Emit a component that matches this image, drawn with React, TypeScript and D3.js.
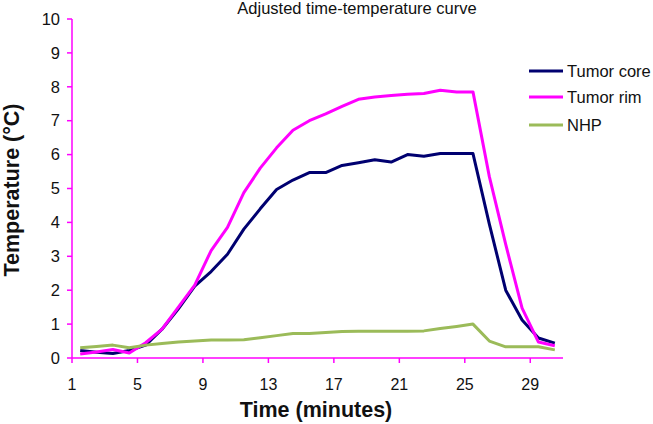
import React from 'react';
import * as d3 from 'd3';

// sample times (minutes), one per category
const times = [
  1.5, 2.5, 3.5, 4.5, 5.5, 6.5, 7.5, 8.5, 9.5, 10.5,
  11.5, 12.5, 13.5, 14.5, 15.5, 16.5, 17.5, 18.5, 19.5, 20.5,
  21.5, 22.5, 23.5, 24.5, 25.5, 26.5, 27.5, 28.5, 29.5, 30.5
];

const tumorCore = [
  0.22, 0.17, 0.13, 0.22, 0.38, 0.85, 1.45, 2.12, 2.55, 3.06,
  3.8, 4.4, 4.97, 5.25, 5.47, 5.47, 5.68, 5.76, 5.85, 5.78,
  6.0, 5.95, 6.03, 6.03, 6.03, 3.95, 2.0, 1.12, 0.59, 0.44
];

const tumorRim = [
  0.12, 0.18, 0.25, 0.15, 0.45, 0.85, 1.5, 2.15, 3.17, 3.85,
  4.88, 5.6, 6.2, 6.72, 7.0, 7.2, 7.42, 7.63, 7.7, 7.74,
  7.78, 7.8, 7.9, 7.85, 7.85, 5.35, 3.35, 1.47, 0.47, 0.36
];

const nhp = [
  0.3, 0.34, 0.38, 0.3, 0.38, 0.43, 0.47, 0.5, 0.53, 0.53,
  0.54, 0.6, 0.66, 0.72, 0.72, 0.75, 0.78, 0.79, 0.79, 0.79,
  0.79, 0.8, 0.87, 0.93, 1.0, 0.5, 0.33, 0.33, 0.33, 0.24
];

const xTicks = [1, 5, 9, 13, 17, 21, 25, 29];
const yTicks = [0, 1, 2, 3, 4, 5, 6, 7, 8, 9, 10];

const series = [
  { name: 'Tumor core', values: tumorCore, color: '#000070' },
  { name: 'Tumor rim', values: tumorRim, color: '#ff00ff' },
  { name: 'NHP', values: nhp, color: '#9bbb59' }
];

const W = 653;
const H = 424;
const font = '"Liberation Sans", Arial, sans-serif';
const axisColor = '#ff00ff';

export default function App() {
  const x = d3.scaleLinear().domain([1, 31]).range([72, 563]);
  const y = d3.scaleLinear().domain([0, 10]).range([358, 19]);

  const line = (vals: number[]) =>
    d3
      .line<number>()
      .x((_, i) => x(times[i]))
      .y((d) => y(d))(vals) || '';

  return (
    <svg
      width={W}
      height={H}
      style={{ position: 'absolute', left: 0, top: 0, background: '#fff' }}
      fontFamily={font}
    >
      <text x={357} y={14} textAnchor="middle" fontSize={16.5} fill="#111">
        Adjusted time-temperature curve
      </text>

      {/* y axis */}
      <line x1={x(1)} x2={x(1)} y1={y(0)} y2={y(10)} stroke={axisColor} strokeWidth={1.5} />
      {yTicks.map((t) => (
        <g key={'y' + t}>
          <line x1={x(1) - 5} x2={x(1)} y1={y(t)} y2={y(t)} stroke={axisColor} strokeWidth={1.5} />
          <text x={60} y={y(t)} dy="0.35em" textAnchor="end" fontSize={16.5} fill="#111">
            {t}
          </text>
        </g>
      ))}

      {/* x axis */}
      <line x1={x(1)} x2={x(31)} y1={y(0)} y2={y(0)} stroke={axisColor} strokeWidth={1.5} />
      {xTicks.map((t) => (
        <g key={'x' + t}>
          <line x1={x(t)} x2={x(t)} y1={y(0)} y2={y(0) + 5} stroke={axisColor} strokeWidth={1.5} />
          <text x={x(t)} y={390} textAnchor="middle" fontSize={16} fill="#111">
            {t}
          </text>
        </g>
      ))}

      {series.map((s) => (
        <path
          key={s.name}
          d={line(s.values)}
          fill="none"
          stroke={s.color}
          strokeWidth={3}
          strokeLinejoin="round"
        />
      ))}

      {/* legend */}
      {series.map((s, i) => (
        <g key={'lg' + s.name} transform={`translate(529,${[71, 97, 125][i]})`}>
          <line x1={0} x2={34} y1={0} y2={0} stroke={s.color} strokeWidth={3} />
          <text x={38} y={0} dy="0.36em" fontSize={16.5} fill="#111">
            {s.name}
          </text>
        </g>
      ))}

      <text x={316} y={417} textAnchor="middle" fontSize={21.5} fontWeight="bold" fill="#111">
        Time (minutes)
      </text>
      <text
        transform={`translate(19,190) rotate(-90)`}
        textAnchor="middle"
        fontSize={21.5}
        fontWeight="bold"
        fill="#111"
      >
        Temperature (°C)
      </text>
    </svg>
  );
}
